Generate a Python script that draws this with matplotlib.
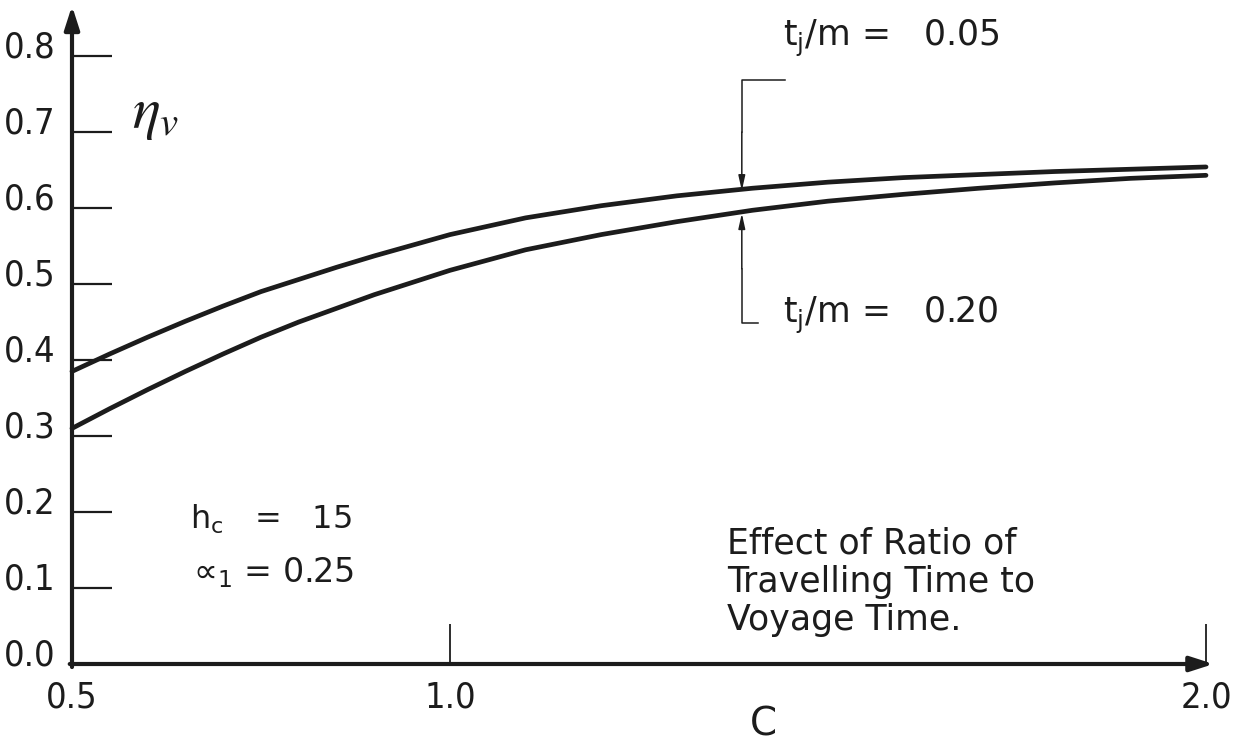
#!/usr/bin/env python3
"""Voyage efficiency against C for two travelling-time ratios."""

import matplotlib

matplotlib.use("Agg")
import matplotlib.pyplot as plt
import numpy as np
from matplotlib.transforms import ScaledTranslation

# values
c_values = [0.5, 0.55, 0.6, 0.65, 0.7, 0.75, 0.8, 0.85, 0.9, 1.0,
            1.1, 1.2, 1.3, 1.4, 1.5, 1.6, 1.7, 1.8, 1.9, 2.0]
eta_tj_005 = [0.385, 0.408, 0.430, 0.451, 0.471, 0.490, 0.506, 0.522, 0.537, 0.565,
              0.587, 0.603, 0.616, 0.626, 0.634, 0.640, 0.644, 0.648, 0.651, 0.654]
eta_tj_020 = [0.310, 0.336, 0.361, 0.385, 0.408, 0.430, 0.450, 0.468, 0.486, 0.518,
              0.545, 0.565, 0.582, 0.597, 0.609, 0.618, 0.626, 0.633, 0.639, 0.643]

y_ticks = [0.0, 0.1, 0.2, 0.3, 0.4, 0.5, 0.6, 0.7, 0.8]
y_tick_labels = ["0.0", "0.1", "0.2", "0.3", "0.4", "0.5", "0.6", "0.7", "0.8"]
x_ticks = [0.5, 1.0, 2.0]
x_tick_labels = ["0.5", "1.0", "2.0"]

label_05 = r"t$_\mathrm{j}$/m =   0.05"
label_20 = r"t$_\mathrm{j}$/m =   0.20"
marker_c = 1.386  # where the bracket arrows touch the curves

INK = "#1c1c1c"

fig = plt.figure(figsize=(12.37, 7.45), dpi=100)
ax = fig.add_axes([0, 0, 1, 1])
ax.set_xlim(0.5 - 72 / 756, 0.5 + (1237 - 72) / 756)
ax.set_ylim((664 - 745) / 760, 664 / 760)
for side in ax.spines.values():
    side.set_visible(False)
ax.spines["left"].set_position(("data", 0.5))
ax.spines["bottom"].set_position(("data", 0.0))

# axes with arrow heads
ax.annotate("", xy=(0.5, 0.866), xytext=(0.5, -0.004),
            arrowprops=dict(arrowstyle="-|>,head_length=1.4,head_width=0.45",
                            lw=3.0, color=INK, shrinkA=0, shrinkB=0))
ax.annotate("", xy=(2.01, 0.0), xytext=(0.497, 0.0),
            arrowprops=dict(arrowstyle="-|>,head_length=1.4,head_width=0.45",
                            lw=3.0, color=INK, shrinkA=0, shrinkB=0))

ax.set_yticks(y_ticks)
ax.set_yticklabels(y_tick_labels)
ax.set_xticks(x_ticks)
ax.set_xticklabels(x_tick_labels)
ax.tick_params(axis="y", direction="in", length=29, width=1.6, color=INK,
               pad=12, labelsize=26, labelcolor=INK)
ax.tick_params(axis="x", direction="in", length=29, width=1.3, color=INK,
               pad=12, labelsize=26, labelcolor=INK)
for lab in ax.get_yticklabels():
    lab.set_fontstretch("condensed")
    lab.set_transform(lab.get_transform() + ScaledTranslation(0, 12 / 100, fig.dpi_scale_trans))
for lab in ax.get_xticklabels():
    lab.set_fontstretch("condensed")

# curves
ax.plot(c_values, eta_tj_005, color=INK, lw=3.4, solid_capstyle="round", solid_joinstyle="round")
ax.plot(c_values, eta_tj_020, color=INK, lw=3.4, solid_capstyle="round", solid_joinstyle="round")

# bracket callouts
upper_at = np.interp(marker_c, c_values, eta_tj_005)
lower_at = np.interp(marker_c, c_values, eta_tj_020)
ax.plot([1.443, marker_c, marker_c], [0.768, 0.768, 0.70], color=INK, lw=1.1)
ax.annotate("", xy=(marker_c, upper_at - 0.002), xytext=(marker_c, 0.70),
            arrowprops=dict(arrowstyle="-|>,head_length=0.9,head_width=0.2",
                            lw=1.1, color=INK, shrinkA=0, shrinkB=0))
ax.plot([1.407, marker_c, marker_c], [0.449, 0.449, 0.52], color=INK, lw=1.1)
ax.annotate("", xy=(marker_c, lower_at - 0.002), xytext=(marker_c, 0.52),
            arrowprops=dict(arrowstyle="-|>,head_length=0.9,head_width=0.2",
                            lw=1.1, color=INK, shrinkA=0, shrinkB=0))
ax.text(1.440, 0.823, label_05, fontsize=25, color=INK, va="center", ha="left")
ax.text(1.440, 0.459, label_20, fontsize=25, color=INK, va="center", ha="left")

# labels and notes
ax.text(0.580, 0.724, r"$\eta_v$", fontsize=42, color=INK, va="center", ha="left",
        math_fontfamily="stix")
ax.text(0.656, 0.190, r"h$_\mathrm{c}$   =   15", fontsize=23, color=INK, va="center", ha="left")
ax.text(0.660, 0.120, r"∝$_\mathrm{1}$ = 0.25", fontsize=24, color=INK, va="center", ha="left")
ax.text(1.366, 0.108, "Effect of Ratio of\nTravelling Time to\nVoyage Time.",
        fontsize=25, color=INK, va="center", ha="left", linespacing=1.15)
ax.text(1.414, -0.080, "C", fontsize=28, color=INK, va="center", ha="center")

fig.savefig("out.png", dpi=100)
